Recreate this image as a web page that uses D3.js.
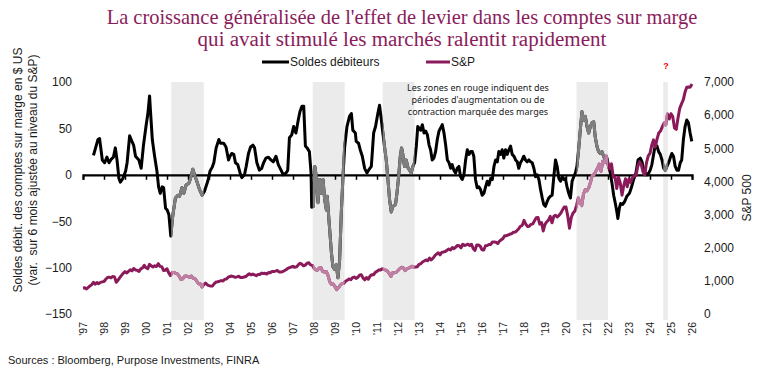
<!DOCTYPE html>
<html><head><meta charset="utf-8">
<script src="https://cdn.jsdelivr.net/npm/d3@7"></script>
<style>body{margin:0;background:#fff}svg{display:block}</style>
</head><body><svg id="c" width="760" height="375"></svg>
<script>
// ---------- DATA ----------
const titleLines = ["La croissance généralisée de l'effet de levier dans les comptes sur marge",
                    "qui avait stimulé les marchés ralentit rapidement"];
const seriesNames = ["Soldes débiteurs", "S&P"];
const yearTicks = d3.range(1997, 2027);
const yearLabels = yearTicks.map(y => "'" + String(y).slice(2));
const leftTicks = [100, 50, 0, -50, -100, -150];
const rightTicks = [7000, 6000, 5000, 4000, 3000, 2000, 1000, 0];
const shadeStarts = [2001.2, 2007.94, 2011.27, 2020.5, 2024.63];
const shadeEnds   = [2002.75, 2009.46, 2012.79, 2022.0, 2024.85];

const debitYears = [1997.50,1997.71,1997.79,1997.92,1998.03,1998.14,1998.24,1998.35,1998.45,1998.54,1998.62,1998.71,1998.78,1998.90,
1999.03,1999.10,1999.22,1999.33,1999.41,1999.50,1999.66,1999.77,1999.88,2000.01,2000.09,2000.17,2000.21,2000.30,2000.41,2000.52,
2000.60,2000.68,2000.77,2000.84,2000.93,2001.01,2001.09,2001.18,2001.27,2001.40,2001.52,2001.60,2001.71,2001.80,2001.91,2002.04,
2002.12,2002.23,2002.31,2002.42,2002.55,2002.67,2002.78,2002.94,2003.05,2003.15,2003.23,2003.34,2003.47,2003.55,2003.70,2003.81,
2003.93,2004.00,2004.08,2004.18,2004.26,2004.37,2004.48,2004.56,2004.69,2004.77,2004.88,2004.98,2005.09,2005.17,2005.28,2005.40,
2005.51,2005.60,2005.71,2005.83,2005.95,2006.06,2006.19,2006.30,2006.43,2006.54,2006.67,2006.75,2006.83,2006.94,2007.03,2007.14,
2007.25,2007.33,2007.43,2007.51,2007.59,2007.67,2007.78,2007.86,2007.89,2007.97,2008.04,2008.11,2008.19,2008.27,2008.35,2008.43,
2008.51,2008.59,2008.63,2008.71,2008.83,2008.90,2008.98,2009.06,2009.14,2009.22,2009.30,2009.38,2009.46,2009.57,2009.69,2009.78,
2009.85,2009.97,2010.01,2010.12,2010.20,2010.30,2010.41,2010.52,2010.60,2010.73,2010.84,2010.93,2011.04,2011.12,2011.17,2011.28,
2011.36,2011.44,2011.52,2011.60,2011.68,2011.76,2011.88,2011.95,2012.03,2012.11,2012.17,2012.23,2012.31,2012.39,2012.47,2012.55,
2012.63,2012.71,2012.79,2012.87,2012.94,2013.08,2013.16,2013.24,2013.32,2013.40,2013.48,2013.55,2013.63,2013.71,2013.79,2013.87,
2013.95,2014.11,2014.19,2014.27,2014.35,2014.43,2014.51,2014.58,2014.66,2014.74,2014.82,2014.90,2014.98,2015.06,2015.14,2015.22,
2015.30,2015.38,2015.46,2015.54,2015.61,2015.69,2015.77,2015.85,2015.93,2016.01,2016.09,2016.17,2016.25,2016.33,2016.41,2016.49,
2016.57,2016.65,2016.73,2016.80,2016.88,2016.96,2017.04,2017.12,2017.20,2017.28,2017.36,2017.44,2017.52,2017.60,2017.68,2017.75,
2017.83,2017.91,2017.99,2018.07,2018.15,2018.23,2018.31,2018.39,2018.47,2018.55,2018.63,2018.71,2018.79,2018.87,2018.94,2019.02,
2019.10,2019.18,2019.26,2019.34,2019.42,2019.50,2019.58,2019.66,2019.74,2019.82,2019.90,2019.97,2020.05,2020.13,2020.21,2020.29,
2020.37,2020.45,2020.52,2020.60,2020.68,2020.76,2020.84,2020.92,2021.00,2021.08,2021.16,2021.24,2021.32,2021.39,2021.47,2021.55,
2021.63,2021.71,2021.79,2021.87,2021.95,2022.03,2022.11,2022.19,2022.27,2022.35,2022.43,2022.47,2022.54,2022.60,2022.70,2022.79,
2022.90,2023.02,2023.11,2023.22,2023.33,2023.43,2023.54,2023.62,2023.70,2023.78,2023.86,2023.94,2024.01,2024.09,2024.17,2024.25,
2024.33,2024.41,2024.49,2024.57,2024.65,2024.73,2024.81,2024.89,2024.96,2025.04,2025.12,2025.20,2025.28,2025.36,2025.44,2025.51,
2025.59,2025.67,2025.75,2025.83,2025.91,2025.99];
const debitValues = [21,38,39,16,13,19,13,17,19,29,16,-4,-8,-4,
4,13,42,36,32,20,16,7,32,54,66,85,70,38,20,4,
-13,-20,-13,-14,-36,-38,-43,-66,-45,-25,-22,-23,-14,-20,-11,-9,
-4,6,0,-7,-16,-22,-18,-7,4,8,13,29,38,34,34,30,
16,20,23,22,13,11,2,-3,0,9,23,30,32,29,13,5,
7,13,18,19,16,14,20,11,5,0,2,5,40,43,52,45,
59,68,74,74,31,29,25,2,-35,-34,9,-2,-30,-5,-20,-5,
-27,-38,-23,-48,-84,-99,-102,-97,-111,-92,-41,-2,30,52,63,66,
48,45,36,34,27,20,7,2,5,9,45,52,66,75,66,45,
30,16,-5,-27,-40,-34,-32,-20,-2,20,29,22,9,16,8,5,
2,9,13,30,52,48,54,45,47,43,32,27,16,18,25,38,
47,54,45,32,16,13,7,11,5,2,7,9,-2,-5,0,16,
27,22,25,25,20,-5,-14,-13,-16,-22,-20,-13,-7,-11,-4,-5,
9,16,14,25,22,27,18,27,22,27,31,22,20,16,14,7,
13,16,20,16,14,16,14,13,7,-2,0,-5,-16,-25,-32,-34,
-29,-25,-23,-22,-2,16,9,-4,-7,-2,-5,-4,-13,-20,-25,-7,
-2,2,9,27,48,68,59,63,52,45,52,56,57,41,31,25,
23,25,20,16,18,9,2,-9,-22,-31,-41,-47,-36,-31,-32,-29,
-23,-20,-14,-5,2,16,18,14,5,2,0,2,5,11,22,32,
31,25,22,16,7,5,9,13,18,23,20,9,5,5,13,16,
38,52,59,56,45,36];

// S&P 500, monthly, starting January 1997
const spxStartYear = 1997;
const spxValues = [
786,791,757,801,848,885,954,899,947,915,955,970,
980,1049,1102,1112,1091,1134,1121,957,1017,1099,1164,1229,
1280,1238,1286,1335,1302,1373,1329,1320,1283,1363,1389,1469,
1394,1366,1499,1452,1421,1455,1431,1518,1437,1429,1315,1320,
1366,1240,1160,1249,1256,1224,1211,1134,1041,1060,1139,1148,
1130,1107,1147,1077,1067,990,912,916,815,886,936,880,
856,841,848,917,964,975,990,1008,996,1051,1058,1112,
1131,1145,1126,1107,1121,1141,1102,1104,1115,1130,1174,1212,
1181,1204,1181,1157,1192,1191,1234,1220,1229,1207,1249,1248,
1280,1281,1295,1311,1270,1270,1277,1304,1336,1378,1401,1418,
1438,1407,1421,1482,1531,1503,1455,1474,1527,1549,1481,1468,
1379,1331,1323,1386,1400,1280,1267,1283,1166,969,896,903,
826,735,798,873,919,919,987,1021,1057,1036,1096,1115,
1074,1104,1169,1187,1089,1031,1102,1049,1141,1183,1181,1258,
1286,1327,1326,1364,1345,1321,1292,1219,1131,1253,1247,1258,
1312,1366,1408,1398,1310,1362,1379,1407,1441,1412,1416,1426,
1498,1515,1569,1598,1631,1606,1686,1633,1682,1757,1806,1848,
1783,1859,1872,1884,1924,1960,1931,2003,1972,2018,2068,2059,
1995,2105,2068,2086,2107,2063,2104,1972,1920,2079,2080,2044,
1940,1932,2060,2065,2097,2099,2174,2171,2168,2126,2199,2239,
2279,2364,2363,2384,2412,2423,2470,2472,2519,2575,2648,2674,
2824,2714,2641,2648,2705,2718,2816,2902,2914,2712,2760,2507,
2704,2784,2834,2946,2752,2942,2980,2926,2977,3038,3141,3231,
3226,2954,2585,2912,3044,3100,3271,3500,3363,3270,3622,3756,
3714,3811,3973,4181,4204,4298,4395,4523,4308,4605,4567,4766,
4516,4374,4530,4132,4132,3785,4130,3955,3586,3872,4080,3840,
4077,3970,4109,4169,4180,4450,4589,4508,4288,4194,4568,4770,
4846,5096,5254,5036,5278,5460,5522,5648,5762,5705,6032,5882,
6041,5955,5612,5569,5912,6205,6339,6460,6688,6840,6849,6845,
6940];

// ---------- STYLE ----------
const C = {
  title: "#8B1C5B", black: "#000000", gray: "#7F7F7F",
  purple: "#8A1A5A", pink: "#BE7FA2", shade: "#EBEBEB", text: "#1a1a1a"
};
const sans = "'Liberation Sans', Arial, sans-serif";

const svg = d3.select("#c");
const x = d3.scaleLinear().domain([1997, 2026]).range([83, 692]);
const yL = d3.scaleLinear().domain([-150, 100]).range([314, 82]);
const yR = d3.scaleLinear().domain([0, 7000]).range([314, 82]);

// shading
const shades = shadeStarts.map((s, i) => [s, shadeEnds[i]]);
svg.append("g").selectAll("rect").data(shades).join("rect")
  .attr("x", d => x(d[0])).attr("width", d => x(d[1]) - x(d[0]))
  .attr("y", 82).attr("height", 238).attr("fill", C.shade);

const defs = svg.append("defs");
const clip = defs.append("clipPath").attr("id", "shadeClip");
clip.selectAll("rect").data(shades).join("rect")
  .attr("x", d => x(d[0])).attr("width", d => x(d[1]) - x(d[0]))
  .attr("y", 0).attr("height", 375);

// zero axis with ticks
const xAxis = d3.axisBottom(x).tickValues(yearTicks).tickSize(5).tickFormat("");
const gx = svg.append("g").attr("transform", `translate(0,${yL(0)})`).call(xAxis);
gx.select(".domain").attr("stroke", "#000").attr("stroke-width", 2.2);
gx.selectAll(".tick line").attr("stroke", "#000").attr("stroke-width", 1.5);

// x labels (rotated)
svg.append("g").selectAll("text").data(yearTicks).join("text")
  .attr("transform", d => `translate(${x(d) + 4},322) rotate(-90)`)
  .attr("text-anchor", "end").attr("font-family", sans).attr("font-size", 10.5)
  .attr("fill", C.text).text((d, i) => yearLabels[i]);

// left axis
const gl = svg.append("g").attr("transform", "translate(76,0)")
  .call(d3.axisLeft(yL).tickValues(leftTicks).tickSize(0).tickPadding(4).tickFormat(d3.format("d")));
gl.select(".domain").remove();
gl.selectAll("text").attr("font-family", sans).attr("font-size", 12).attr("fill", C.text);

// right axis
const gr = svg.append("g").attr("transform", "translate(700,0)")
  .call(d3.axisRight(yR).tickValues(rightTicks).tickSize(0).tickPadding(4).tickFormat(d3.format(",")));
gr.select(".domain").remove();
gr.selectAll("text").attr("font-family", sans).attr("font-size", 12).attr("fill", C.text);

// series
const spx = spxValues.map((v, i) => [spxStartYear + i / 12, v]);
const debit = debitYears.map((t, i) => [t, debitValues[i]]);
const lineL = d3.line().x(d => x(d[0])).y(d => yL(d[1]));
const lineR = d3.line().x(d => x(d[0])).y(d => yR(d[1]));

function drawLine(data, gen, color, light) {
  svg.append("path").datum(data).attr("d", gen).attr("fill", "none")
    .attr("stroke", color).attr("stroke-width", 3).attr("stroke-linejoin", "round");
  svg.append("path").datum(data).attr("d", gen).attr("fill", "none")
    .attr("clip-path", "url(#shadeClip)")
    .attr("stroke", light).attr("stroke-width", 3).attr("stroke-linejoin", "round");
}
drawLine(debit, lineL, C.black, C.gray);
drawLine(spx, lineR, C.purple, C.pink);

// title
function fit(sel, target) {
  const w = sel.node().getComputedTextLength();
  sel.attr("font-size", parseFloat(sel.attr("font-size")) * target / w);
}
const tFont = "'Liberation Serif', 'Times New Roman', serif";
const t1 = svg.append("text").attr("x", 402).attr("y", 24).attr("text-anchor", "middle")
  .attr("font-family", tFont).attr("font-size", 20).attr("fill", C.title).text(titleLines[0]);
fit(t1, 591);
const t2 = svg.append("text").attr("x", 402).attr("y", 46).attr("text-anchor", "middle")
  .attr("font-family", tFont).attr("font-size", 20).attr("fill", C.title).text(titleLines[1]);
fit(t2, 409);

// legend
const legend = [
  { x1: 262, x2: 289, tx: 290, color: C.black, label: seriesNames[0] },
  { x1: 426, x2: 450, tx: 451, color: C.purple, label: seriesNames[1] }
];
const lg = svg.append("g");
lg.selectAll("line").data(legend).join("line")
  .attr("x1", d => d.x1).attr("x2", d => d.x2).attr("y1", 62).attr("y2", 62)
  .attr("stroke", d => d.color).attr("stroke-width", 3);
lg.selectAll("text").data(legend).join("text")
  .attr("x", d => d.tx).attr("y", 66).attr("font-family", sans).attr("font-size", 12)
  .attr("fill", C.text).text(d => d.label);

// axis titles
svg.append("text").attr("transform", "translate(22,170) rotate(-90)").attr("text-anchor", "middle")
  .attr("font-family", sans).attr("font-size", 12).attr("fill", C.text)
  .text("Soldes débit. des comptes sur marge en $ US");
svg.append("text").attr("transform", "translate(37,170) rotate(-90)").attr("text-anchor", "middle")
  .attr("font-family", sans).attr("font-size", 12).attr("fill", C.text)
  .text("(var.  sur 6 mois ajustée au niveau du S&P)").attr("xml:space", "preserve");
svg.append("text").attr("transform", "translate(751,198) rotate(-90)").attr("text-anchor", "middle")
  .attr("font-family", sans).attr("font-size", 12).attr("fill", C.text).text("S&P 500");

// annotation
const note = ["Les zones en rouge indiquent  des", "périodes d'augmentation  ou de", "contraction marquée des marges"];
const nt = svg.append("g").attr("font-family", "'Noto Sans', sans-serif").attr("font-size", 9)
  .attr("fill", C.text).attr("text-anchor", "middle");
const n0 = nt.append("text").attr("x", 478).attr("y", 91).text(note[0]);
fit(n0, 157);
const nfs = n0.attr("font-size");
nt.append("text").attr("x", 478).attr("y", 103).attr("font-size", nfs).text(note[1]);
nt.append("text").attr("x", 478).attr("y", 115).attr("font-size", nfs).text(note[2]);

// red question mark
svg.append("text").attr("x", 666).attr("y", 69).attr("text-anchor", "middle")
  .attr("font-family", sans).attr("font-weight", "bold").attr("font-size", 9)
  .attr("fill", "#FF0000").text("?");

// source
svg.append("text").attr("x", 8).attr("y", 364).attr("font-family", sans).attr("font-size", 11)
  .attr("fill", C.text).text("Sources : Bloomberg, Purpose Investments, FINRA");
</script></body></html>
